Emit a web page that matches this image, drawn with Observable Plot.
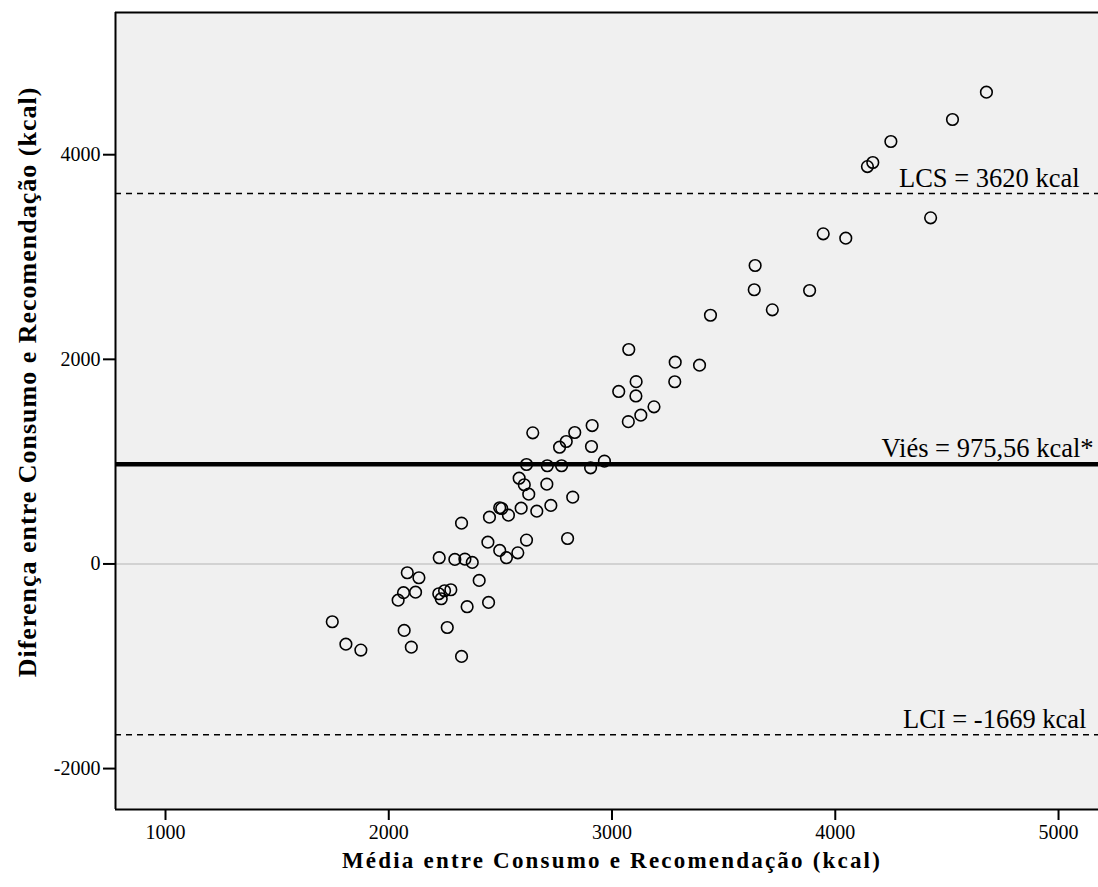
<!DOCTYPE html>
<html>
<head>
<meta charset="utf-8">
<script src="https://cdn.jsdelivr.net/npm/d3@7"></script>
<script src="https://cdn.jsdelivr.net/npm/@observablehq/plot@0.6"></script>
<style>
  html, body { margin: 0; padding: 0; background: #ffffff; }
  #chart svg { display: block; }
</style>
</head>
<body>
<div id="chart"></div>
<script>
// Mean of consumption and recommendation (kcal)
const mediaKcal = [
  4677, 4525, 4249, 4168, 4144, 4427, 3946, 4047, 3641, 3637,
  3885, 3718, 3441, 3075, 3283, 3392, 3108, 3281, 3030, 3107,
  3188, 3129, 3073,
  2645, 2911, 2833, 2795, 2765, 2908, 2617, 2710, 2774, 2904,
  2966, 2584, 2607, 2708, 2627, 2824, 2497, 2506, 2593, 2536,
  2451, 2663, 2726, 2326, 2444, 2617, 2801, 2497, 2527, 2578,
  2226, 2296, 2341, 2374, 2083, 2135, 2405, 2066, 2042, 2120,
  2224, 2235, 2250, 2278, 2351, 2447, 1747, 1808, 1875, 2069,
  2101, 2262, 2326
];
// Difference between consumption and recommendation (kcal)
const diferencaKcal = [
  4611, 4344, 4129, 3924, 3884, 3383, 3227, 3184, 2917, 2680,
  2673, 2484, 2431, 2096, 1972, 1943, 1782, 1781, 1686, 1642,
  1536, 1454, 1391,
  1282, 1353, 1285, 1197, 1141, 1148, 972, 960, 960, 940,
  1005, 838, 774, 780, 682, 653, 549, 542, 545, 477,
  457, 516, 572, 399, 213, 233, 249, 132, 61, 109,
  61, 44, 47, 15, -86, -135, -161, -281, -354, -276,
  -291, -340, -262, -252, -418, -376, -565, -784, -842, -650,
  -813, -621, -904
];

const vies = 975.56;
const lcs = 3620;
const lci = -1669;
const refLabels = ["LCS = 3620 kcal", "Viés = 975,56 kcal*", "LCI = -1669 kcal"];
const refValues = [lcs, vies, lci];
const refLabelEnds = [5094, 5157, 5125];

const xTicks = [1000, 2000, 3000, 4000, 5000];
const yTicks = [-2000, 0, 2000, 4000];
const xDomain = [776, 5179];
const yDomain = [-2400, 5390];
const xTitle = "Média entre Consumo e Recomendação (kcal)";
const yTitle = "Diferença entre Consumo e Recomendação (kcal)";

const points = mediaKcal.map((m, i) => ({x: m, y: diferencaKcal[i]}));
const refs = refLabels.map((t, i) => ({label: t, y: refValues[i], x: refLabelEnds[i]}));

const FONT = "'Liberation Serif', 'Times New Roman', serif";
const W = 1098, H = 887;
const chart = Plot.plot({
  width: W,
  height: H,
  marginLeft: 115,
  marginRight: 0,
  marginTop: 12,
  marginBottom: 78,
  style: {fontFamily: FONT, background: "#ffffff", color: "#000"},
  x: {domain: xDomain},
  y: {domain: yDomain},
  marks: [
    Plot.frame({fill: "#f0f0f0", stroke: null}),
    Plot.ruleY([0], {stroke: "#c8c8c8", strokeWidth: 1.5}),
    Plot.ruleY([lcs], {stroke: "#000", strokeWidth: 1.5, strokeDasharray: "6,5"}),
    Plot.ruleY([lci], {stroke: "#000", strokeWidth: 1.5, strokeDasharray: "6,5"}),
    Plot.ruleY([vies], {stroke: "#000", strokeWidth: 4.5}),
    Plot.dot(points, {x: "x", y: "y", r: 5.8, stroke: "#000", strokeWidth: 1.6, fill: "none"}),
    Plot.text(refs, {x: "x", y: "y", text: "label", textAnchor: "end", lineAnchor: "bottom", dy: -7, fontSize: 26.5, fill: "#000"}),
    Plot.axisY({ticks: yTicks, tickSize: 12, tickPadding: 3, tickFormat: d => String(d), fontSize: 20, strokeWidth: 2, label: null}),
    Plot.axisX({ticks: xTicks, tickSize: 11, tickPadding: 4, tickFormat: d => String(d), fontSize: 20, strokeWidth: 2, label: null}),
    Plot.ruleX([xDomain[0]], {stroke: "#000", strokeWidth: 2}),
    Plot.ruleY([yDomain[1]], {stroke: "#000", strokeWidth: 2}),
    Plot.ruleY([yDomain[0]], {stroke: "#000", strokeWidth: 2})
  ]
});

document.getElementById("chart").appendChild(chart);

const svg = d3.select(chart);
svg.append("text")
  .attr("x", 612)
  .attr("y", 868)
  .attr("text-anchor", "middle")
  .attr("font-family", FONT)
  .attr("font-weight", "bold")
  .attr("font-size", 23)
  .attr("letter-spacing", 2.2)
  .attr("fill", "#000")
  .text(xTitle);
svg.append("text")
  .attr("transform", "translate(36,382) rotate(-90)")
  .attr("text-anchor", "middle")
  .attr("font-family", FONT)
  .attr("font-weight", "bold")
  .attr("font-size", 26)
  .attr("letter-spacing", 1.0)
  .attr("fill", "#000")
  .text(yTitle);
</script>
</body>
</html>
